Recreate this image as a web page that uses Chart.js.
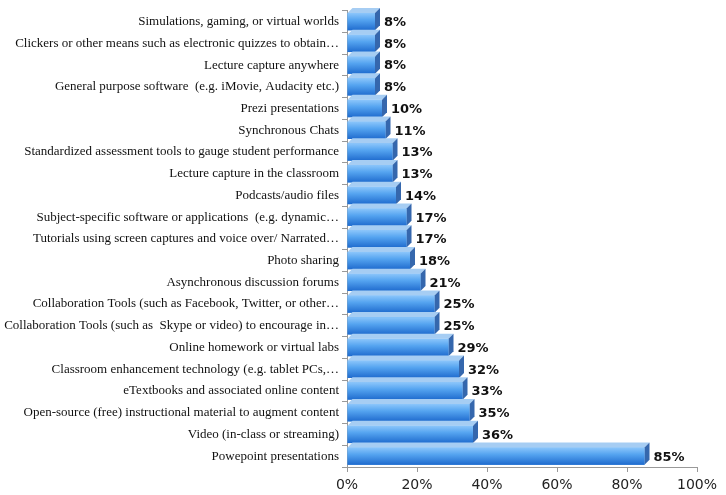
<!DOCTYPE html>
<html>
<head>
<meta charset="utf-8">
<script src="https://cdn.jsdelivr.net/npm/chart.js@4.4.0/dist/chart.umd.min.js"></script>
<style>
  html, body { margin: 0; padding: 0; background: #fff; }
  #wrap { width: 726px; height: 495px; }
</style>
</head>
<body>
<div id="wrap"><canvas id="chartTools"></canvas></div>
<script>
const categorias = [
  'Simulations, gaming, or virtual worlds',
  'Clickers or other means such as electronic quizzes to obtain…',
  'Lecture capture anywhere',
  'General purpose software  (e.g. iMovie, Audacity etc.)',
  'Prezi presentations',
  'Synchronous Chats',
  'Standardized assessment tools to gauge student performance',
  'Lecture capture in the classroom',
  'Podcasts/audio files',
  'Subject-specific software or applications  (e.g. dynamic…',
  'Tutorials using screen captures and voice over/ Narrated…',
  'Photo sharing',
  'Asynchronous discussion forums',
  'Collaboration Tools (such as Facebook, Twitter, or other…',
  'Collaboration Tools (such as  Skype or video) to encourage in…',
  'Online homework or virtual labs',
  'Classroom enhancement technology (e.g. tablet PCs,…',
  'eTextbooks and associated online content',
  'Open-source (free) instructional material to augment content',
  'Video (in-class or streaming)',
  'Powepoint presentations'
];
const porcentajes = [8, 8, 8, 8, 10, 11, 13, 13, 14, 17, 17, 18, 21, 25, 25, 29, 32, 33, 35, 36, 85];
const ticksX = [0, 20, 40, 60, 80, 100];

const DEPTH = 5;

// dibuja las barras en 3D (cara frontal con degradado, cara superior y lateral)
const barras3D = {
  id: 'barras3D',
  afterDatasetsDraw(chart) {
    const c = chart.ctx;
    const meta = chart.getDatasetMeta(0);
    meta.data.forEach((el, i) => {
      const x0 = el.base, x1 = el.x;
      const top = el.y - el.height / 2, bot = el.y + el.height / 2;
      c.save();
      // cara superior
      c.beginPath();
      c.moveTo(x0, top);
      c.lineTo(x0 + DEPTH, top - DEPTH);
      c.lineTo(x1 + DEPTH, top - DEPTH);
      c.lineTo(x1, top);
      c.closePath();
      c.fillStyle = '#a6cdf3';
      c.fill();
      // cara lateral
      c.beginPath();
      c.moveTo(x1, top);
      c.lineTo(x1 + DEPTH, top - DEPTH);
      c.lineTo(x1 + DEPTH, bot - DEPTH);
      c.lineTo(x1, bot);
      c.closePath();
      c.fillStyle = '#3567ad';
      c.fill();
      // cara frontal
      const g = c.createLinearGradient(0, top, 0, bot);
      g.addColorStop(0, '#8cc6fb');
      g.addColorStop(0.4, '#55a4f0');
      g.addColorStop(1, '#1f6bce');
      c.fillStyle = g;
      c.fillRect(x0, top, x1 - x0, bot - top);
      // etiqueta de valor
      c.fillStyle = '#111';
      c.font = 'bold 13px "DejaVu Sans"';
      c.textAlign = 'left';
      c.textBaseline = 'middle';
      c.fillText(porcentajes[i] + '%', x1 + DEPTH + 4, el.y + 1);
      c.restore();
    });
  }
};

const ctx = document.getElementById('chartTools');

new Chart(ctx, {
  type: 'bar',
  data: {
    labels: categorias,
    datasets: [{
      label: 'Porcentaje',
      data: porcentajes,
      backgroundColor: '#55a4f0',
      borderWidth: 0,
      categoryPercentage: 1,
      barPercentage: 0.8
    }]
  },
  options: {
    indexAxis: 'y',
    responsive: true,
    maintainAspectRatio: false,
    animation: false,
    layout: { padding: { top: 4, right: 29, left: 0, bottom: 0 } },
    plugins: {
      legend: { display: false },
      tooltip: { enabled: false }
    },
    scales: {
      x: {
        min: 0,
        max: 100,
        afterBuildTicks: (scale) => { scale.ticks = ticksX.map(v => ({ value: v })); },
        afterFit: (scale) => { scale.height = 28; },
        grid: { drawOnChartArea: false, tickLength: 5, color: '#999' },
        border: { color: '#999' },
        ticks: {
          callback: (v) => v + '%',
          color: '#222',
          padding: 5,
          maxRotation: 0,
          font: { family: 'DejaVu Sans', size: 14 }
        }
      },
      y: {
        afterFit: (scale) => { scale.width = 347; },
        grid: { drawOnChartArea: false, tickLength: 5, color: '#999' },
        border: { color: '#999' },
        ticks: {
          color: '#111',
          padding: 3,
          autoSkip: false,
          font: { family: 'Liberation Serif', size: 13 }
        }
      }
    }
  },
  plugins: [barras3D]
});
</script>
</body>
</html>
